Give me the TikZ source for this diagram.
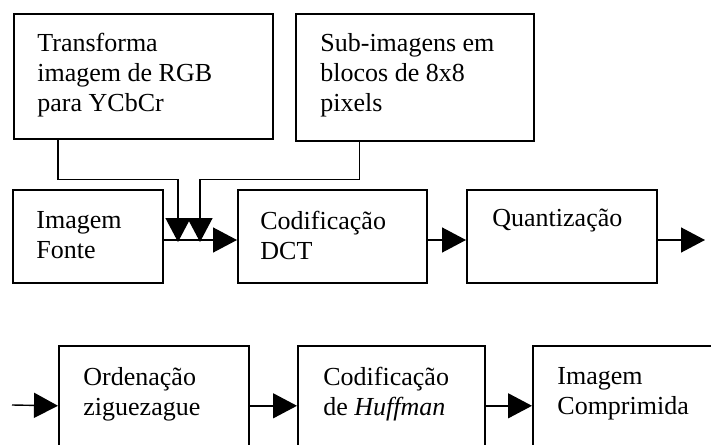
\documentclass[tikz,border=0pt]{standalone}
\usepackage{fontspec}
\setmainfont{Liberation Serif}
\usetikzlibrary{arrows.meta,positioning}
\tikzset{font=\fontsize{13}{15}\selectfont}
\tikzset{box/.style={draw,line width=0.8pt,inner sep=0pt,anchor=north west},
         txt/.style={align=left,inner sep=0pt},
         seta/.style={line width=0.7pt,-{Triangle[length=12pt,width=12.5pt]}}}

\begin{document}
\begin{tikzpicture}[x=0.5pt,y=-0.5pt]
  \clip (0,0) rectangle (711,444);

  % caixas de cima
  \node[box,minimum width=129.5pt,minimum height=62.5pt] (rgb) at (13,13) {};
  \node[box,minimum width=119pt,minimum height=63.5pt] (blocos) at (295,13) {};
  \node[txt,below right=10pt and 12pt of rgb.north west] (rgbtxt)
       {Transforma\\imagem de RGB\\para YCbCr};
  \node[txt,below right=10pt and 12.5pt of blocos.north west] (blocostxt)
       {Sub-imagens em\\blocos de 8x8\\pixels};

  % primeira linha
  \node[box,minimum width=75pt,minimum height=46.5pt] (fonte) at (12,189) {};
  \node[box,minimum width=94.5pt,minimum height=46.5pt] (dct) at (237,189) {};
  \node[box,minimum width=95pt,minimum height=46.5pt] (quant) at (466,189) {};
  \node[txt,below right=11pt and 12pt of fonte.north west] (fontetxt) {Imagem\\Fonte};
  \node[txt,below right=11pt and 11.5pt of dct.north west] (dcttxt) {Codificação\\DCT};
  \node[txt,below right=10pt and 13pt of quant.north west] (quanttxt) {Quantização};

  % segunda linha
  \node[box,minimum width=95pt,minimum height=60pt] (ord) at (58,345) {};
  \node[box,minimum width=93.5pt,minimum height=60pt] (huff) at (297,345) {};
  \node[box,minimum width=125pt,minimum height=60pt] (comp) at (532,345) {};
  \node[txt,below right=11pt and 12.5pt of ord.north west] (ordtxt) {Ordenação\\ziguezague};
  \node[txt,below right=11pt and 13pt of huff.north west] (hufftxt) {Codificação\\de \textit{Huffman}};
  \node[txt,below right=11pt and 12.5pt of comp.north west] (comptxt) {Imagem\\Comprimida};

  \coordinate (r1) at (0,240);
  \coordinate (j1) at (178,242);
  \coordinate (j2) at (200,242);
  \coordinate (sai) at (705,240);
  \coordinate (entra) at (12,405);

  \draw[seta] ([xshift=22.5pt]rgb.south west) -- ++(0,40) -| (j1);
  \draw[seta] ([xshift=-87.5pt]blocos.south east) -- ++(0,38) -| (j2);
  \draw[seta] (fonte.east |- r1) -- (dct.west |- r1);
  \draw[seta] (dct.east |- r1) -- (quant.west |- r1);
  \draw[seta] (quant.east |- r1) -- (sai);

  \draw[seta] (entra) -- (ord.west);
  \draw[seta] (ord.east) -- (huff.west);
  \draw[seta] (huff.east) -- (comp.west);
\end{tikzpicture}
\end{document}
